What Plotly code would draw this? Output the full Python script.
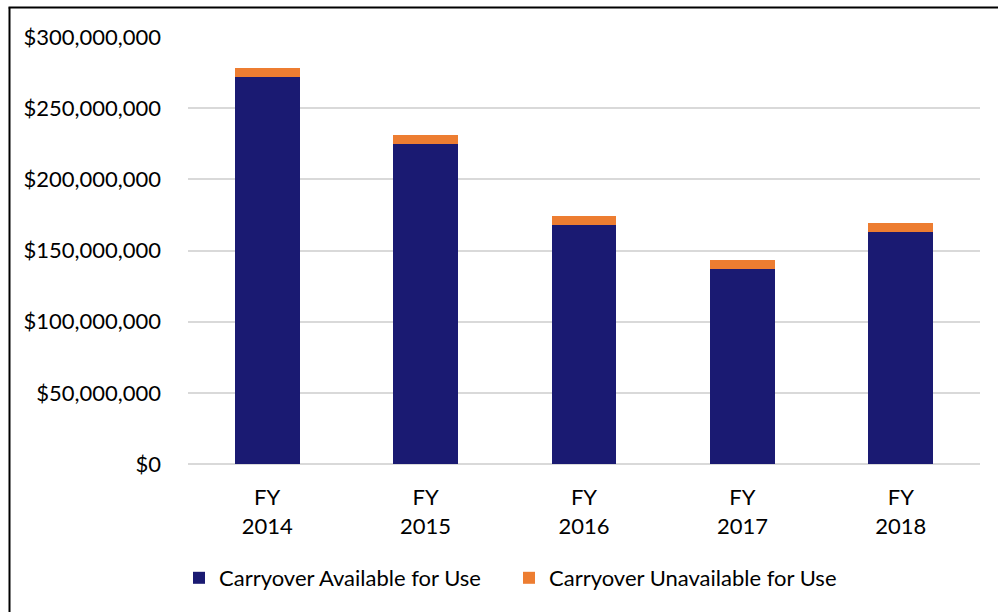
import plotly.graph_objects as go

categories = ["FY<br>2014", "FY<br>2015", "FY<br>2016", "FY<br>2017", "FY<br>2018"]
available = [271_700_000, 224_700_000, 167_800_000, 136_700_000, 162_700_000]
unavailable = [6_300_000, 6_300_000, 6_300_000, 6_300_000, 6_500_000]
y_ticks = [0, 50_000_000, 100_000_000, 150_000_000, 200_000_000, 250_000_000, 300_000_000]

NAVY = "#1A1A72"
ORANGE = "#ED7D31"
FONT = "Lato"
FS = 22

fig = go.Figure()
fig.add_trace(go.Bar(x=categories, y=available, name="Carryover Available for Use",
                     marker=dict(color=NAVY, line=dict(width=0))))
fig.add_trace(go.Bar(x=categories, y=unavailable, name="Carryover Unavailable for Use",
                     marker=dict(color=ORANGE, line=dict(width=0))))

L, R, T, B = 188, 18, 37, 148
W, H = 998, 612
pw, ph = W - L - R, H - T - B

def px(xp):
    return (xp - L) / pw

def py(yp):
    return (H - B - yp) / ph

fig.update_layout(
    barmode="stack",
    bargap=0.59,
    width=W, height=H,
    margin=dict(l=L, r=R, t=T, b=B, pad=0),
    paper_bgcolor="white",
    plot_bgcolor="white",
    font=dict(family=FONT, size=FS, color="#000000"),
    showlegend=True,
    legend=dict(orientation="h", x=px(179), xanchor="left", y=py(557), yanchor="top",
                font=dict(family=FONT, size=FS, color="#000000"),
                itemwidth=30, traceorder="normal", entrywidth=285, entrywidthmode="pixels"),
    xaxis=dict(showgrid=False, showline=False, ticks="", tickfont=dict(size=FS),
               ticklabelstandoff=18),
    yaxis=dict(range=[0, 300_000_000], tickvals=y_ticks, tickformat="$,d",
               showgrid=True, gridcolor="#D9D9D9", gridwidth=1.5,
               zeroline=True, zerolinecolor="#D9D9D9", zerolinewidth=1.5,
               showline=False, ticks="", ticklabelstandoff=26, tickfont=dict(size=FS)),
    shapes=[
        dict(type="line", xref="paper", yref="paper", x0=px(9.5), x1=px(9.5),
             y0=py(7.5), y1=py(620), line=dict(color="black", width=2)),
        dict(type="line", xref="paper", yref="paper", x0=px(8.5), x1=px(1005),
             y0=py(7.5), y1=py(7.5), line=dict(color="black", width=2)),
    ],
)

fig.write_html("out.html")
